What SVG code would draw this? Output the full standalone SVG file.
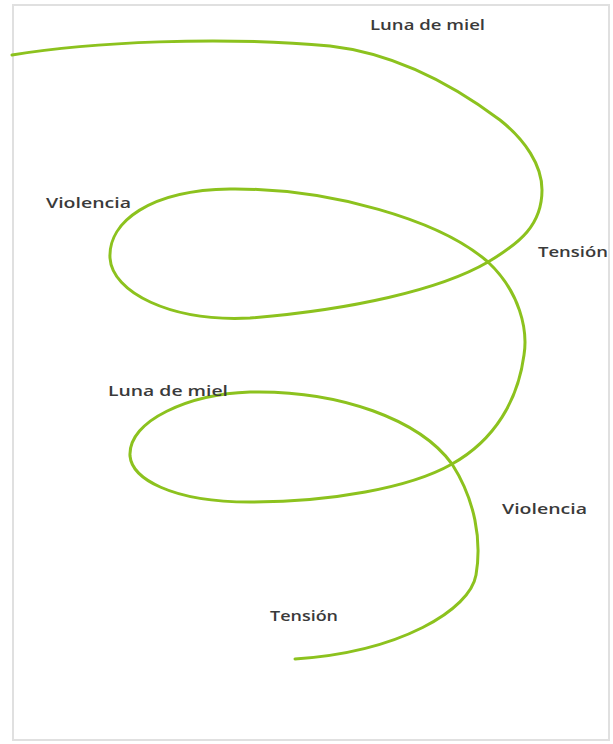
<svg xmlns="http://www.w3.org/2000/svg" width="613" height="744" viewBox="0 0 613 744">
  <style>
    .lbl { font-family: "Open Sans", "Liberation Sans", sans-serif; font-size: 14px; font-weight: 600; fill: #3a3a3a; }
    .spiral { fill: none; stroke: #8cc21e; stroke-width: 3; stroke-linecap: round; stroke-linejoin: round; }
  </style>
  <rect x="0" y="0" width="613" height="744" fill="#ffffff"/>
  <rect id="frame" x="13" y="5" width="596" height="735" fill="#ffffff" stroke="#e0e0e0" stroke-width="2"/>
  <g id="connectors">
    <path class="spiral" d="M 12 55 C 90 42, 220 36, 330 46 C 400 54, 460 90, 500 120 C 525 140, 542 165, 542 190 C 542 225, 520 243, 488 262 C 440 290, 350 310, 250 318 C 170 322, 112 292, 110 258 C 108 222, 150 190, 230 189 C 330 188, 440 220, 488 262 C 520 292, 528 330, 524 355 C 518 400, 495 440, 452 464 C 410 488, 330 502, 250 502 C 170 502, 132 478, 130 456 C 128 420, 190 394, 250 392 C 340 390, 420 420, 452 464 C 475 500, 482 540, 476 575 C 470 610, 400 652, 295 659"/>
  </g>
  <g id="luna1"><text class="lbl" x="370" y="30" textLength="115" lengthAdjust="spacingAndGlyphs">Luna de miel</text></g>
  <g id="violencia1"><text class="lbl" x="46" y="208" textLength="85" lengthAdjust="spacingAndGlyphs">Violencia</text></g>
  <g id="tension1"><text class="lbl" x="538" y="257" textLength="70" lengthAdjust="spacingAndGlyphs">Tensión</text></g>
  <g id="luna2"><text class="lbl" x="108" y="396" textLength="120" lengthAdjust="spacingAndGlyphs">Luna de miel</text></g>
  <g id="violencia2"><text class="lbl" x="502" y="514" textLength="85" lengthAdjust="spacingAndGlyphs">Violencia</text></g>
  <g id="tension2"><text class="lbl" x="270" y="621" textLength="68" lengthAdjust="spacingAndGlyphs">Tensión</text></g>
</svg>
